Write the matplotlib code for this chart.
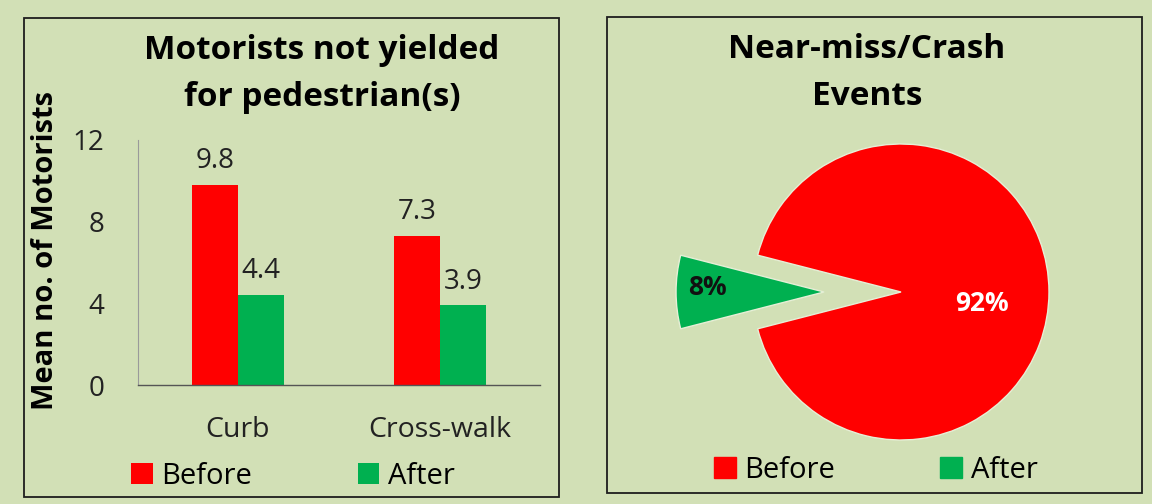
import matplotlib
matplotlib.use("Agg")
import matplotlib.pyplot as plt
from matplotlib.patches import Rectangle, Patch
import numpy as np

# ---- data ----
categories = ["Curb", "Cross-walk"]
before_vals = [9.8, 7.3]
after_vals = [4.4, 3.9]
series_names = ["Before", "After"]
yticks = [0, 4, 8, 12]
pie_labels = ["Before", "After"]
pie_vals = [92, 8]

RED = "#ff0000"
GREEN = "#00b050"
BG = "#d2e0b6"
FONT = ["Open Sans", "DejaVu Sans"]

plt.rcParams["font.family"] = FONT

W, H = 1152, 504
fig = plt.figure(figsize=(W / 100, H / 100), dpi=100, facecolor=BG)


def fx(px):
    return px / W


def fy(py):
    return 1 - py / H


# panel borders
for (x0, y0, x1, y1) in [(24, 18, 559, 497), (607, 17, 1142, 493)]:
    fig.add_artist(Rectangle((fx(x0), fy(y1)), fx(x1 - x0), (y1 - y0) / H,
                             transform=fig.transFigure, fill=False,
                             edgecolor="#1e1e1e", linewidth=1.3))

# ---- bar chart ----
ax = fig.add_axes([fx(138), fy(385), fx(540 - 138), (385 - 140) / H])
ax.set_facecolor("none")
x = np.arange(len(categories))
bw = 0.228
b1 = ax.bar(x - bw / 2, before_vals, bw, color=RED, label=series_names[0])
b2 = ax.bar(x + bw / 2, after_vals, bw, color=GREEN, label=series_names[1])
ax.set_ylim(0, 12)
ax.set_xlim(-0.495, 1.495)
ax.set_yticks(yticks)
ax.set_yticklabels([str(t) for t in yticks], fontsize=20, color="#222222")
ax.set_xticks(x)
ax.set_xticklabels(categories, fontsize=20.5, color="#222222")
ax.tick_params(axis="y", length=0, pad=24)
ax.tick_params(axis="x", length=0, pad=22)
for s in ["top", "right"]:
    ax.spines[s].set_visible(False)
ax.spines["left"].set_color("#9a9a9a")
ax.spines["left"].set_linewidth(0.8)
ax.spines["bottom"].set_color("#555555")
ax.spines["bottom"].set_linewidth(1.0)
for bars in (b1, b2):
    for r in bars:
        ax.annotate(f"{r.get_height():.1f}",
                    (r.get_x() + r.get_width() / 2, r.get_height()),
                    xytext=(0, 7), textcoords="offset points",
                    ha="center", va="bottom", fontsize=20, color="#222222")

fig.text(fx(46), fy(250), "Mean no. of Motorists", rotation=90,
         ha="center", va="center", fontsize=21, fontweight="bold")
fig.text(fx(322), fy(74), "Motorists not yielded\nfor pedestrian(s)",
         ha="center", va="center", fontsize=24, fontweight="bold",
         linespacing=1.55)

fig.legend(handles=[b1, b2], labels=series_names, loc="center",
           bbox_to_anchor=(fx(293), fy(476)), ncol=2, frameon=False,
           fontsize=21, handlelength=0.75, handleheight=0.75,
           handletextpad=0.3, columnspacing=3.6, borderaxespad=0)

# ---- pie chart ----
R = 148
cx, cy = 901, 292
half = 200
pax = fig.add_axes([fx(cx - half), fy(cy + half), fx(2 * half), 2 * half / H])
pax.set_facecolor("none")
wedges, _, autotexts = pax.pie(pie_vals, colors=[RED, GREEN],
                               startangle=194.4, explode=[0, 0.52],
                               autopct="%d%%", pctdistance=0.6,
                               wedgeprops=dict(edgecolor="#e6efd6", linewidth=1.0),
                               textprops=dict(fontsize=19, fontweight="bold"))
lim = half / R
pax.set_xlim(-lim, lim)
pax.set_ylim(-lim, lim)
pax.set_aspect("equal")
pax.axis("off")
for w, t, col, d, dy in zip(wedges, autotexts, ["white", "#111111"],
                            [0.55, 0.79], [-0.08, 0.03]):
    ang = np.deg2rad((w.theta1 + w.theta2) / 2)
    c = w.center
    t.set_position((c[0] + d * np.cos(ang), c[1] + d * np.sin(ang) + dy))
    t.set_color(col)
    t.set_text(f"{int(round((w.theta2 - w.theta1) / 3.6))}%")

fig.text(fx(867), fy(73), "Near-miss/Crash\nEvents",
         ha="center", va="center", fontsize=24, fontweight="bold",
         linespacing=1.55)

fig.legend(handles=[Patch(color=RED), Patch(color=GREEN)], labels=pie_labels,
           loc="center", bbox_to_anchor=(fx(876), fy(470)), ncol=2,
           frameon=False, fontsize=21, handlelength=0.75, handleheight=0.75,
           handletextpad=0.3, columnspacing=3.6, borderaxespad=0)

fig.savefig("out.png", dpi=100, facecolor=BG)
